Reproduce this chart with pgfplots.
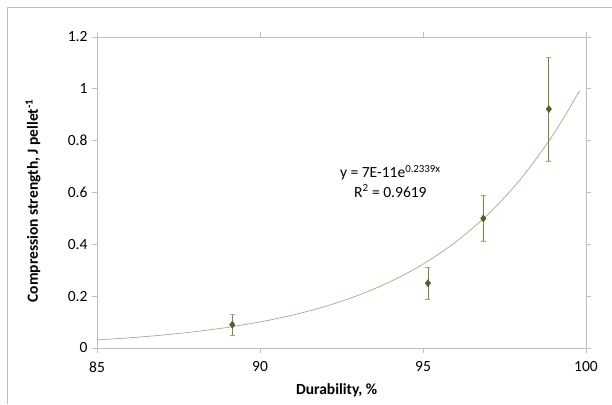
\documentclass[border=0pt]{standalone}
\usepackage{pgfplots}
\pgfplotsset{compat=1.18}
\usepackage{fontspec}
\setmainfont{Carlito}
\definecolor{gridgray}{HTML}{BFBFBF}
\definecolor{markgreen}{HTML}{4F6228}
\definecolor{errgreen}{HTML}{6E8A3C}
\definecolor{trendc}{HTML}{A3AC84}
\newcommand{\fs}{\fontsize{15.5bp}{18bp}\selectfont}
\begin{document}
\begin{tikzpicture}[x=1bp,y=1bp]
\useasboundingbox (0,0) rectangle (612,404);
\draw[gridgray, line width=0.8bp] (7,0) -- (7,397) -- (612,397);
\begin{axis}[
  at={(97bp,56bp)}, anchor=south west,
  width=489bp, height=311bp, scale only axis,
  xmin=85, xmax=100, ymin=0, ymax=1.2,
  xtick={85,90,95,100}, ytick={0,0.2,...,1.2},
  axis line style={gridgray, line width=0.8bp},
  tick style={gridgray, line width=0.8bp},
  tick align=outside, major tick length=5bp,
  /pgf/number format/assume math mode=true,
  yticklabel style={/pgf/number format/fixed, font=\fs, xshift=-1bp},
  xticklabel style={font=\fs, yshift=-5bp},
  xlabel={\textbf{Durability, \%}},
  ylabel={\textbf{Compression strength, J pellet\textsuperscript{-1}}},
  label style={font=\fs},
  xlabel style={at={(axis description cs:0.490,-0.135)}, anchor=center},
  ylabel style={at={(axis description cs:-0.131,0.473)}, anchor=center},
  clip=false,
]
\addplot[trendc, line width=0.7bp, smooth] coordinates {
(85,0.0312) (86,0.0394) (87,0.0498) (88,0.0629) (89,0.0795) (90,0.1005)
(91,0.1269) (92,0.1604) (93,0.2027) (94,0.2561) (95,0.3235) (96,0.4088)
(97,0.5165) (98,0.6526) (99,0.8245) (99.8,0.992)};
\addplot[only marks, mark=diamond*, mark size=3.6bp, mark options={markgreen, fill=markgreen},
  error bars/.cd, y dir=both, y explicit,
  error bar style={errgreen, line width=0.8bp},
  error mark options={rotate=90, mark size=2.5bp, errgreen!70, line width=0.5bp}]
coordinates {
(89.15,0.09) +- (0,0.04)
(95.15,0.25) +- (0,0.06)
(96.85,0.50) +- (0,0.09)
(98.86,0.922) +- (0,0.20)
};
\node[font=\fs] at (axis cs:94.0,0.675) {y = 7E-11e\textsuperscript{0.2339x}};
\node[font=\fs] at (axis cs:94.0,0.606) {R\textsuperscript{2} = 0.9619};
\end{axis}
\end{tikzpicture}
\end{document}
